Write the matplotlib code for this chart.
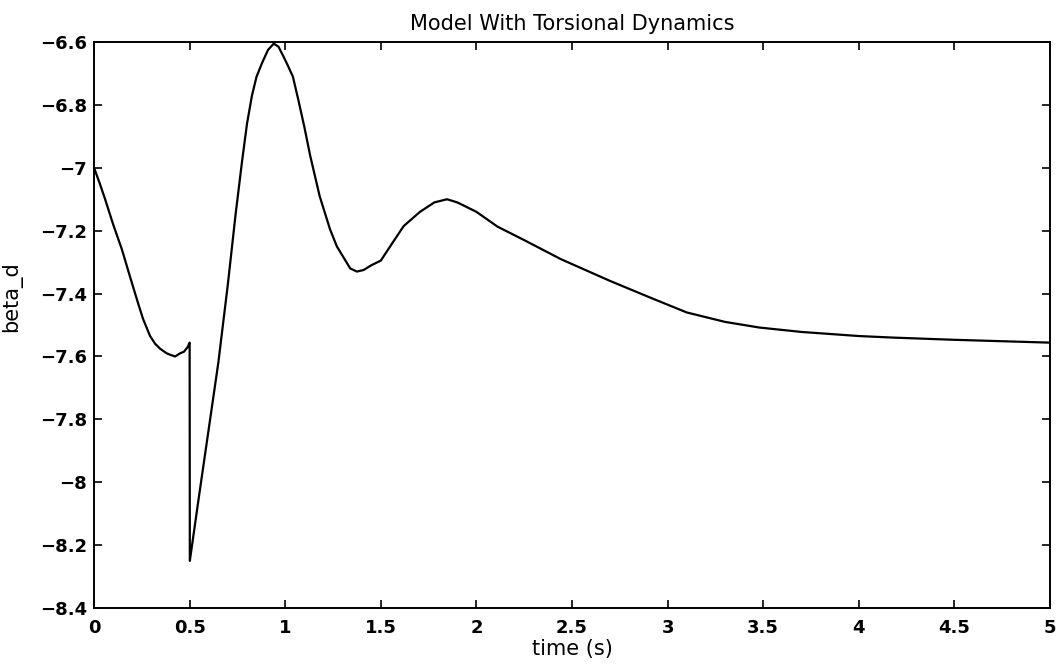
import matplotlib
matplotlib.use("Agg")
import matplotlib.pyplot as plt

# time (s)
t = [0.0, 0.03, 0.058, 0.10, 0.146, 0.19, 0.23, 0.256, 0.293, 0.32, 0.345, 0.38,
     0.40, 0.424, 0.45, 0.47, 0.49, 0.500, 0.501, 0.55, 0.60, 0.65, 0.70, 0.74,
     0.774, 0.80, 0.826, 0.85, 0.88, 0.91, 0.94, 0.965, 0.99, 1.01,
     1.04, 1.067, 1.10, 1.13, 1.18, 1.234, 1.27, 1.30, 1.34, 1.375, 1.41, 1.45,
     1.50, 1.565, 1.62, 1.705, 1.78, 1.846, 1.90, 2.0, 2.11, 2.25, 2.44, 2.54,
     2.70, 2.91, 3.10, 3.30, 3.48, 3.70, 4.00, 4.18, 4.5, 5.0]
# beta_d
beta_d = [-7.00, -7.05, -7.10, -7.18, -7.26, -7.35, -7.43, -7.48, -7.535, -7.56,
          -7.575, -7.59, -7.595, -7.60, -7.59, -7.585, -7.57, -7.556, -8.25,
          -8.04, -7.83, -7.62, -7.37, -7.15, -6.98, -6.86, -6.77, -6.71,
          -6.665, -6.625, -6.605, -6.615, -6.645, -6.67, -6.71, -6.78, -6.87, -6.96,
          -7.09, -7.195, -7.25, -7.28, -7.32, -7.33, -7.325, -7.31, -7.295, -7.235,
          -7.185, -7.14, -7.11, -7.10, -7.11, -7.14, -7.187, -7.23, -7.29, -7.317,
          -7.36, -7.413, -7.46, -7.49, -7.508, -7.522, -7.535, -7.54, -7.547, -7.556]

xticks = [0, 0.5, 1, 1.5, 2, 2.5, 3, 3.5, 4, 4.5, 5]
xticklabels = ["0", "0.5", "1", "1.5", "2", "2.5", "3", "3.5", "4", "4.5", "5"]
yticks = [-6.6, -6.8, -7, -7.2, -7.4, -7.6, -7.8, -8, -8.2, -8.4]
yticklabels = ["\u22126.6", "\u22126.8", "\u22127", "\u22127.2", "\u22127.4",
               "\u22127.6", "\u22127.8", "\u22128", "\u22128.2", "\u22128.4"]

plt.rcParams['font.family'] = ['DejaVu Sans']

fig = plt.figure(figsize=(10.59, 6.64), dpi=100)
ax = fig.add_axes([0.0888, 0.0843, 0.9027, 0.8524])
ax.plot(t, beta_d, color='black', linewidth=1.6)

ax.set_xlim(0, 5)
ax.set_ylim(-8.4, -6.6)
ax.set_xticks(xticks)
ax.set_xticklabels(xticklabels, fontsize=13, fontweight='bold')
ax.set_yticks(yticks)
ax.set_yticklabels(yticklabels, fontsize=13, fontweight='bold')
ax.tick_params(direction='in', length=6, width=1.2, top=True, right=True)
ax.tick_params(axis='x', pad=8)
ax.tick_params(axis='y', pad=5)
for s in ax.spines.values():
    s.set_linewidth(1.4)

ax.set_title("Model With Torsional Dynamics", fontsize=15, pad=9)
ax.set_xlabel("time (s)", fontsize=15, labelpad=1)
ax.set_ylabel("beta_d", fontsize=15, labelpad=8)
ax.yaxis.set_label_coords(-0.075, 0.55)

fig.savefig("out.png", dpi=100)
